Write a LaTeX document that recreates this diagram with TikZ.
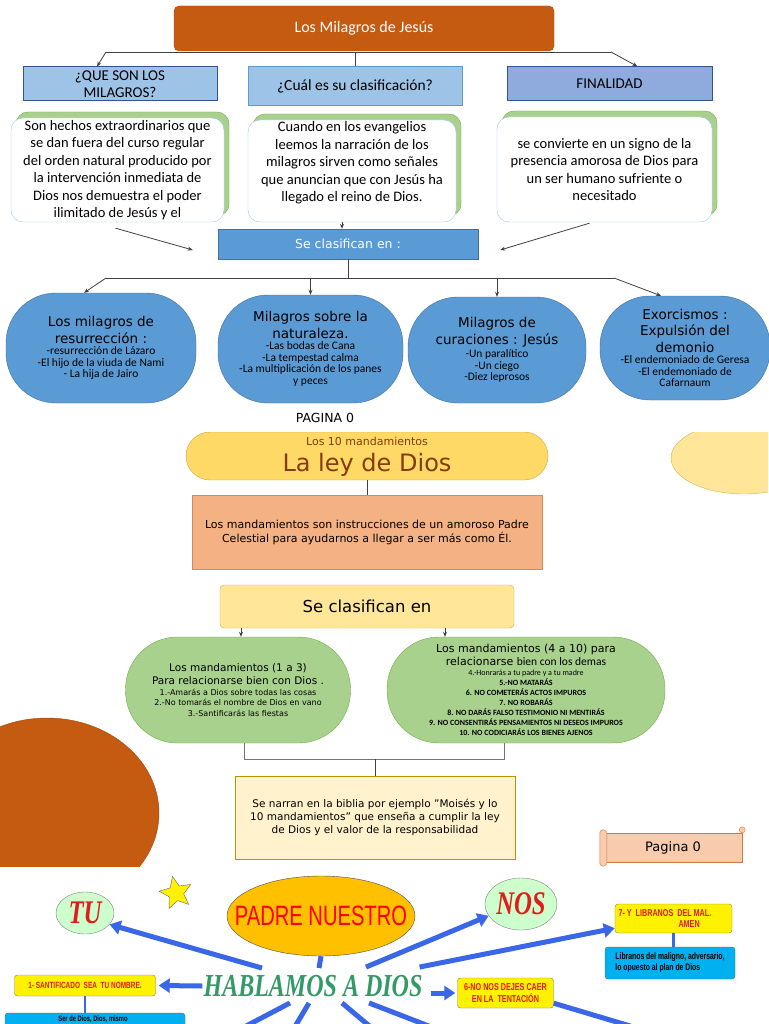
\documentclass[tikz,border=0pt]{standalone}
\usepackage{fontspec}
\setmainfont{DejaVu Sans}
\newfontfamily\carl{Carlito}
\newfontfamily\tnr[FakeStretch=0.75]{Liberation Serif}
\newfontfamily\arn[FakeStretch=0.72]{Liberation Sans}
\usepackage{tikz}
\usetikzlibrary{calc, positioning, shapes.geometric, shadows, arrows.meta}

\definecolor{rust}{HTML}{C55A11}
\definecolor{hdrblue}{HTML}{9DC3E6}
\definecolor{hdrdark}{HTML}{2F5597}
\definecolor{midblue}{HTML}{5B9BD5}
\definecolor{edgeblue}{HTML}{41719C}
\definecolor{finblue}{HTML}{8FAADC}
\definecolor{lgreen}{HTML}{A9D18E}
\definecolor{dgreen}{HTML}{70AD47}
\definecolor{gold}{HTML}{FFD966}
\definecolor{golddk}{HTML}{BF9000}
\definecolor{salmon}{HTML}{F4B183}
\definecolor{cream}{HTML}{FFE699}
\definecolor{paleyel}{HTML}{FFF2CC}
\definecolor{peach}{HTML}{F8CBAD}
\definecolor{brownt}{HTML}{843C0C}
\definecolor{sky}{HTML}{3A66E8}
\definecolor{cyanb}{HTML}{00B0F0}
\definecolor{hgreen}{HTML}{339966}
\definecolor{redt}{HTML}{E31B1B}
\definecolor{mint}{HTML}{CCFFCC}
\definecolor{amber}{HTML}{FFC000}

\newcommand\fsz[2]{\fontsize{#1}{#2}\selectfont}
\newcommand\nsp{\spaceskip=0pt\xspaceskip=0pt\leftskip=0pt plus 1fil\rightskip=0pt plus 1fil\parfillskip=0pt\relax}
\newcommand\nspl{\spaceskip=0pt\xspaceskip=0pt\leftskip=0pt\rightskip=0pt plus 1fil\parfillskip=0pt\relax}
\newcommand\ttl{\fsz{13.5}{16.5}}
\newcommand\sml{\carl\fsz{11.5}{11.5}}

\begin{document}
\begin{tikzpicture}[x=1pt, y=-1pt,
  lnk/.style={draw=black!75, line width=.8pt},
  arr/.style={lnk, -{Stealth[length=5pt,width=4pt]}},
  title/.style={draw=rust!85!black, fill=rust, rounded corners=5pt, text=white, font=\carl\fsz{16}{19}},
  hdr/.style={draw=hdrdark, fill=hdrblue, line width=1pt, align=center, font=\carl\fsz{15}{17}, inner sep=0pt},
  wbox/.style={draw=hdrblue, fill=white, rounded corners=12pt, general shadow={fill=lgreen, draw=dgreen, shadow xshift=5pt, shadow yshift=6pt}},
  wtxt/.style={align=center, font=\carl\fsz{14.5}{17.5}, inner sep=0pt},
  clas/.style={draw=edgeblue, fill=midblue, text=white, font=\fsz{12.5}{15}},
  mil/.style={draw=edgeblue, fill=midblue, rounded corners=50pt, align=center, text width=164pt, inner sep=0pt},
  ley/.style={draw=golddk!80, fill=gold, rounded corners=24pt, text=brownt},
  man/.style={draw=dgreen, fill=lgreen, rounded corners=52pt, minimum height=106pt, align=center, inner sep=0pt},
  scr/.style={draw=rust!80, fill=peach},
  bub/.style={ellipse, draw=black!50, fill=mint, text=redt, font=\tnr\bfseries\itshape\fsz{33}{35}, inner sep=0pt},
  ybox/.style={draw=black!55!yellow, fill=yellow, rounded corners=3pt, text=redt, font=\arn\bfseries\fsz{9}{10.5}, align=center, inner sep=0pt},
  cbox/.style={draw=black!60, fill=cyanb, rounded corners=3pt, font=\arn\bfseries\fsz{9.5}{11}, align=left, inner sep=0pt},
  barr/.style={draw=sky, line width=5pt, -{Triangle[length=11pt,width=14pt]}},
  bl/.style={draw=sky, line width=5pt}]
\useasboundingbox (0,0) rectangle (768,1024);

\node[title, minimum width=380pt, minimum height=45pt] (tit) at (364,28.5) {Los Milagros de Jesús};
\node[hdr, minimum width=194pt, minimum height=34pt] (q1) at (120,84) {¿QUE SON LOS\\MILAGROS?};
\node[hdr, draw=midblue, minimum width=214pt, minimum height=39pt, font=\carl\fsz{15.5}{18}] (q2) at (355,86.5) {¿Cuál es su clasificación?};
\node[hdr, fill=finblue, minimum width=205pt, minimum height=34pt] (q3) at (609.5,84) {FINALIDAD};
\coordinate (j1) at (106,52);
\coordinate (j2) at (611,52);
\draw[lnk] (j1) -- (j2);
\draw[arr] (j1) -- ([xshift=-23pt]q1.north);
\draw[lnk] (q2.north |- j1) -- (q2.north);
\draw[arr] (j2) -- ([xshift=28pt]q3.north);

\node[wbox, minimum width=213pt, minimum height=104pt] (w1) at (117.5,170) {};
\node[wtxt] (t1) at (w1) {Son hechos extraordinarios que\\se dan fuera del curso regular\\del orden natural producido por\\la intervención inmediata de\\Dios nos demuestra el poder\\ilimitado de Jesús y el};
\node[wbox, minimum width=208pt, minimum height=102pt] (w2) at (352,171) {};
\node[wtxt] (t2) at ([yshift=8pt]w2) {Cuando en los evangelios\\leemos la narración de los\\milagros sirven como señales\\que anuncian que con Jesús ha\\llegado el reino de Dios.};
\node[wbox, minimum width=215pt, minimum height=105pt] (w3) at (604.5,169.5) {};
\node[wtxt] (t3) at (w3) {se convierte en un signo de la\\presencia amorosa de Dios para\\un ser humano sufriente o\\necesitado};

\node[clas, minimum width=260pt, minimum height=30pt] (sc1) at (348,244) {Se clasifican en :};
\draw[arr] ([shift={(-2,6)}]w1.south) -- ([shift={(-25,6)}]sc1.west);
\draw[arr] ([xshift=-10pt]w2.south) -- ([xshift=-6pt]sc1.north);
\draw[arr] ([shift={(-15,1)}]w3.south) -- ([shift={(22,6)}]sc1.east);

\node[mil, minimum width=190pt, minimum height=110pt] (e1) at (101,348) {\nsp\ttl Los milagros de\\resurrección :\par\sml -resurrección de Lázaro\\-El hijo de la viuda de Nami\\- La hija de Jairo\par};
\node[mil, minimum width=185pt, minimum height=108pt] (e2) at (310.5,349) {\nsp\ttl Milagros sobre la\\naturaleza.\par\sml -Las bodas de Cana\\-La tempestad calma\\-La multiplicación de los panes\\y peces\par};
\node[mil, minimum width=178pt, minimum height=106pt] (e3) at (497,350) {\nsp\ttl Milagros de\\curaciones : Jesús\par\sml\vspace{2pt}-Un paralítico\\-Un ciego\\-Diez leprosos\par};
\node[mil, minimum width=170pt, minimum height=104pt] (e4) at (685,348) {\nsp\ttl Exorcismos :\\Expulsión del\\demonio\par\sml -El endemoniado de Geresa\\-El endemoniado de\\Cafarnaum\par};
\coordinate (k1) at (106,278);
\coordinate (k2) at (614,278);
\draw[lnk] (sc1.south) -- (sc1.south |- k1);
\draw[lnk] (k1) -- (k2);
\draw[arr] (k1) -- ([xshift=-17pt]e1.north);
\draw[arr] (e2.north |- k1) -- (e2.north);
\draw[arr] (e3.north |- k1) -- (e3.north);
\draw[arr] (k2) -- ([xshift=-24pt]e4.north);
\node[font=\fsz{12.5}{15}] (pg0) at (325,418) {PAGINA 0};

\begin{scope}
\clip (0,432) rectangle (768,866);
\draw[draw=golddk!70, fill=cream] (744,458) ellipse [x radius=73pt, y radius=36pt];
\draw[draw=rust!80!black, fill=rust] (47,813) ellipse [x radius=112pt, y radius=95pt];
\node[ley, minimum width=362pt, minimum height=48pt,
  label={[anchor=north, yshift=-2pt, font=\fsz{11}{13}, text=brownt]north:Los 10 mandamientos},
  label={[yshift=-9pt, font=\fsz{24}{28}, text=brownt]center:La ley de Dios}] (ley) at (367,456) {};
\node[draw=rust!70, fill=salmon, minimum width=350pt, minimum height=74pt, align=center, font=\fsz{11}{14}] (sal) at (367,532) {Los mandamientos son instrucciones de un amoroso Padre\\Celestial para ayudarnos a llegar a ser más como Él.};
\draw[lnk] (ley.south) -- (sal.north);
\node[draw=golddk!70, fill=cream, rounded corners=4pt, minimum width=294pt, minimum height=43pt, font=\fsz{16.5}{19}] (sc2) at (367,606.5) {Se clasifican en};
\node[man, minimum width=225pt, text width=215pt] (g1) at (238,690) {\nsp\fsz{10.5}{13}Los mandamientos (1 a 3)\\Para relacionarse bien con Dios .\par\fsz{8}{10.5}1.-Amarás a Dios sobre todas las cosas\\2.-No tomarás el nombre de Dios en vano\\3.-Santificarás las fiestas\par};
\node[man, minimum width=278pt, text width=268pt] (g2) at (526,690) {\nsp\fsz{11}{13.5}Los mandamientos (4 a 10) para\\relacionarse {\carl\fsz{11.5}{13.5}bien con los demas}\par\carl\bfseries\fsz{8}{10}{\mdseries 4.-Honrarás a tu padre y a tu madre}\\5.-NO MATARÁS\\6. NO COMETERÁS ACTOS IMPUROS\\7. NO ROBARÁS\\8. NO DARÁS FALSO TESTIMONIO NI MENTIRÁS\\9. NO CONSENTIRÁS PENSAMIENTOS NI DESEOS IMPUROS\\10. NO CODICIARÁS LOS BIENES AJENOS\par};
\coordinate (a1) at ([xshift=-126pt]sc2.south);
\coordinate (a2) at ([xshift=78pt]sc2.south);
\draw[arr] (a1) -- (a1 |- g1.north);
\draw[arr] (a2) -- (a2 |- g2.north);
\node[draw=golddk, fill=paleyel, minimum width=280pt, minimum height=83pt, align=center, font=\fsz{10.5}{13}] (nar) at (375,817.5) {Se narran en la biblia por ejemplo "Moisés y lo\\10 mandamientos" que enseña a cumplir la ley\\de Dios y el valor de la responsabilidad};
\coordinate (m1) at ([shift={(6,16)}]g1.south);
\coordinate (m2) at ([shift={(-22,16)}]g2.south);
\draw[lnk, draw=black!55] ([xshift=6pt]g1.south) -- (m1) -- (m2) -- ([xshift=-22pt]g2.south);
\draw[lnk] (nar.north) -- (nar.north |- m1);
\node[scr, minimum width=138pt, minimum height=29pt, font=\fsz{13}{15}] (pg) at (673,847.5) {Pagina 0};
\draw[scr, rounded corners=3pt] ([shift={(-4,-3)}]pg.north west) rectangle ([shift={(3,4)}]pg.south west);
\draw[scr] ([yshift=3pt]pg.north east) circle [radius=3pt];
\end{scope}

\begin{scope}
\clip (0,866) rectangle (768,1024);
\node[star, star points=5, star point ratio=2.2, minimum size=34pt, inner sep=0pt, fill=yellow, draw=black!60, rotate=12] (st) at (176,893) {};
\node[bub, minimum width=58pt, minimum height=42pt] (tu) at (85,913) {TU};
\node[bub, minimum width=72pt, minimum height=52pt] (nos) at (521,904) {NOS};
\node[ellipse, draw=black!70, fill=amber, minimum width=188pt, minimum height=80pt, text=red, font=\arn\fsz{28}{30}, inner sep=0pt] (pn) at (321,916) {\makebox[0pt]{PADRE NUESTRO}};
\node[text=hgreen, font=\tnr\bfseries\itshape\fsz{32}{34}, inner sep=1pt] (hab) at (313,986) {HABLAMOS A DIOS};
\node[ybox, minimum width=141pt, minimum height=21pt] (y1) at (85,985.5) {1- SANTIFICADO\ \ SEA\ \ TU NOMBRE.};
\node[ybox, minimum width=96pt, minimum height=30pt, font=\arn\bfseries\fsz{10}{11.5}] (y6) at (505.5,993) {6-NO NOS DEJES CAER\\EN LA\ \ TENTACIÓN};
\node[ybox, minimum width=117pt, minimum height=29pt, align=left, text width=110pt, font=\arn\bfseries\fsz{10}{11}] (y7) at (673.5,918.5) {\nspl 7- Y\ \ LIBRANOS\ \ DEL MAL.\\\hspace*{60pt}AMEN\par};
\node[cbox, minimum width=130pt, minimum height=32pt] (c7) at (670,963) {Libranos del maligno, adversario,\\lo opuesto al plan de Dios};
\node[cbox, minimum width=180pt, minimum height=40pt] (c1) at (95,1033) {};
\node[font=\arn\bfseries\fsz{8}{9}, inner sep=0pt] (ct1) at (93,1019) {Ser de Dios, Dios, mismo};
\draw[bl, line width=2.5pt] (y1.south) -- (y1.south |- c1.north);
\draw[bl, line width=2.5pt] (y7.south) -- (y7.south |- c7.north);
\draw[barr] ([shift={(-51,-6)}]hab.north) -- (tu.-25);
\draw[barr] ([shift={(53,-7)}]hab.north) -- (nos.200);
\draw[barr] ([shift={(-4,-7)}]hab.north east) -- ([yshift=5pt]y7.south west);
\draw[bl] (pn.south) -- ([shift={(6,-6)}]hab.north);
\draw[barr] (hab.west) -- ([xshift=3pt]y1.east);
\draw[barr] ([shift={(7,7)}]hab.east) -- ([xshift=-2pt]y6.west);
\coordinate (b1) at (210,1045);
\coordinate (b2) at (284,1045);
\coordinate (b3) at (392,1045);
\coordinate (b4) at (478,1045);
\coordinate (b5) at (694,1045);
\draw[bl] ([shift={(-23,5)}]hab.south) -- (b1);
\draw[bl] ([shift={(-4,5)}]hab.south) -- (b2);
\draw[bl] ([shift={(29,5)}]hab.south) -- (b3);
\draw[bl] ([shift={(56,5)}]hab.south) -- (b4);
\draw[bl] ([yshift=5pt]y6.south east) -- (b5);
\end{scope}
\end{tikzpicture}
\end{document}
